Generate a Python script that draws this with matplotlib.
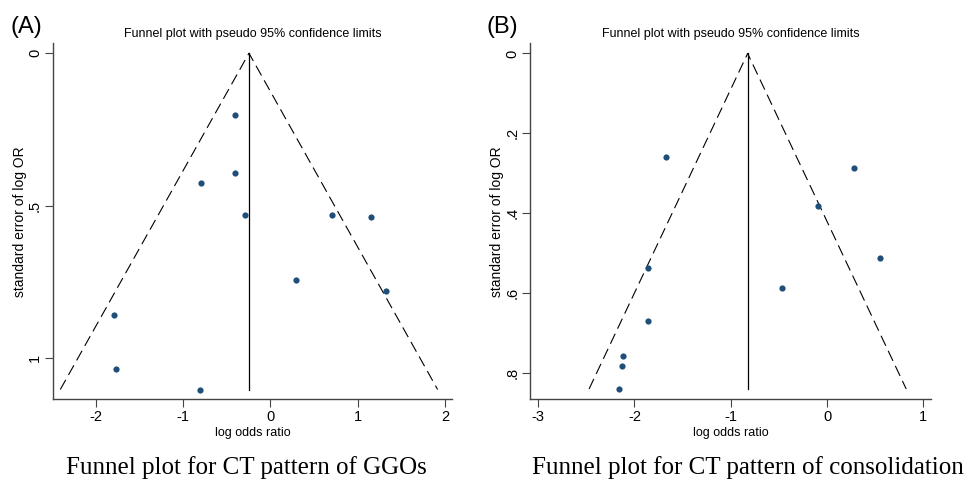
import matplotlib
matplotlib.use("Agg")
import matplotlib.pyplot as plt

# panel A: CT pattern of GGOs
ggo_lor = [-0.40, -0.40, -0.80, -0.29, 0.71, 1.15, 0.29, 1.33, -1.79, -1.77, -0.81]
ggo_se = [0.202, 0.392, 0.426, 0.529, 0.529, 0.537, 0.743, 0.780, 0.858, 1.036, 1.103]
ggo_pooled = -0.245
ggo_xticks = [-2, -1, 0, 1, 2]
ggo_yticks = [0, 0.5, 1]
ggo_yticklabels = ["0", ".5", "1"]

# panel B: CT pattern of consolidation
cons_lor = [-1.67, 0.28, -0.09, 0.55, -1.86, -0.47, -1.86, -2.12, -2.125, -2.16]
cons_se = [0.259, 0.286, 0.381, 0.511, 0.538, 0.587, 0.670, 0.758, 0.783, 0.840]
cons_pooled = -0.825
cons_xticks = [-3, -2, -1, 0, 1]
cons_yticks = [0, 0.2, 0.4, 0.6, 0.8]
cons_yticklabels = ["0", ".2", ".4", ".6", ".8"]

title = "Funnel plot with pseudo 95% confidence limits"
sans = ["Liberation Sans", "DejaVu Sans"]
dot_color = "#1f4e79"


# draws one stata-style funnel plot
def funnel(ax, lor, se, pooled, xlim, ylim, xticks, yticks, yticklabels):
    se_max = max(se)
    lo = pooled - 1.96 * se_max
    hi = pooled + 1.96 * se_max
    ax.plot([lo, pooled, hi], [se_max, 0, se_max], color="black",
            linestyle=(0, (10, 5)), linewidth=0.8)
    ax.plot([pooled, pooled], [0, se_max], color="black", linewidth=0.9)
    ax.scatter(lor, se, s=20, color=dot_color, zorder=3, linewidths=0)

    ax.set_xlim(*xlim)
    ax.set_ylim(*ylim)
    ax.set_xticks(xticks)
    ax.set_xticklabels([str(t) for t in xticks], family=sans, fontsize=10.5)
    ax.set_yticks(yticks)
    ax.set_yticklabels(yticklabels, family=sans, fontsize=10.5,
                       rotation=90, va="center")
    ax.spines["top"].set_visible(False)
    ax.spines["right"].set_visible(False)
    for s in ["left", "bottom"]:
        ax.spines[s].set_color("#444444")
        ax.spines[s].set_linewidth(1.0)
    ax.tick_params(direction="out", length=5.5, width=0.8, color="#444444", pad=2.5)
    ax.set_xlabel("log odds ratio", family=sans, fontsize=9, labelpad=2)
    ax.set_ylabel("standard error of log OR", family=sans, fontsize=10, labelpad=1)
    ax.set_title(title, family=sans, fontsize=9, pad=5)


fig = plt.figure(figsize=(9.68, 4.83), dpi=100)

ax1 = fig.add_axes([0.0548, 0.174, 0.412, 0.736])
funnel(ax1, ggo_lor, ggo_se, ggo_pooled, (-2.49, 2.08), (1.134, -0.032),
       ggo_xticks, ggo_yticks, ggo_yticklabels)

ax2 = fig.add_axes([0.548, 0.174, 0.4135, 0.736])
funnel(ax2, cons_lor, cons_se, cons_pooled, (-3.08, 1.076), (0.865, -0.025),
       cons_xticks, cons_yticks, cons_yticklabels)

# panel letters
fig.text(0.011, 0.944, "(A)", fontsize=17, family=sans, va="center")
fig.text(0.503, 0.944, "(B)", fontsize=17, family=sans, va="center")

# captions under each panel
fig.text(0.255, 0.033, "Funnel plot for CT pattern of GGOs",
         family=["Liberation Serif", "DejaVu Serif"], fontsize=18,
         ha="center", va="center")
fig.text(0.773, 0.033, "Funnel plot for CT pattern of consolidation",
         family=["Liberation Serif", "DejaVu Serif"], fontsize=18,
         ha="center", va="center")

fig.savefig("out.png", dpi=100)
